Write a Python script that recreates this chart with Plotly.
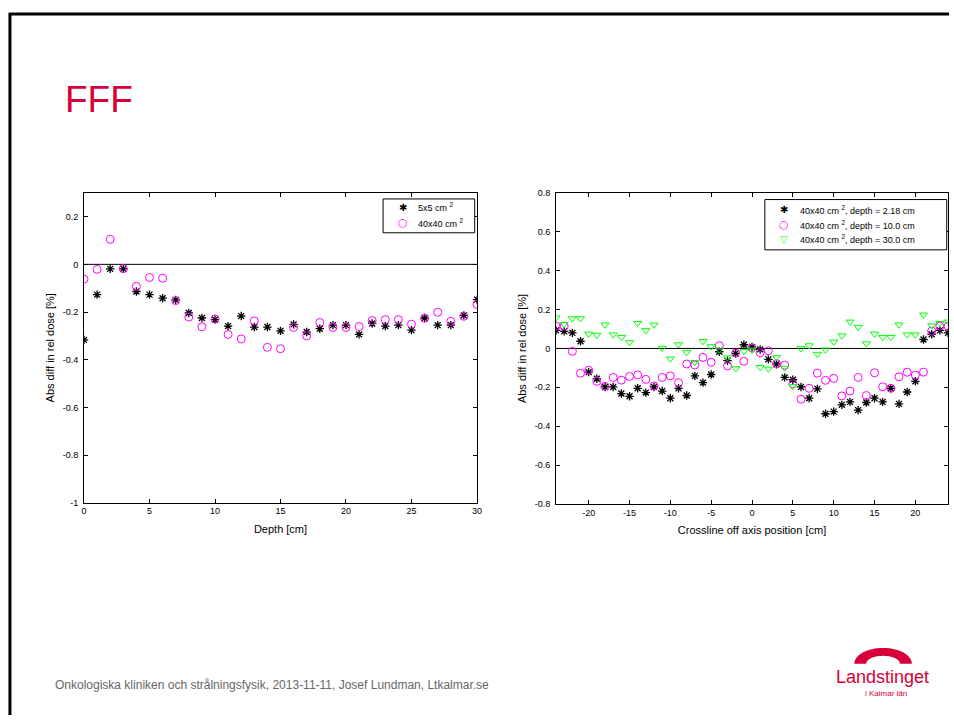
import numpy as np
import plotly.graph_objects as go

W, H = 954, 720

# ---------------- data ----------------
depth = list(range(0, 31))
pdd_5x5 = [-0.317, -0.127, -0.019, -0.019, -0.114, -0.127, -0.142, -0.149, -0.204, -0.225,
           -0.232, -0.259, -0.217, -0.263, -0.263, -0.279, -0.252, -0.284, -0.270, -0.255,
           -0.255, -0.294, -0.248, -0.259, -0.255, -0.276, -0.225, -0.255, -0.255, -0.214,
           -0.148]
pdd_40x40 = [-0.062, -0.021, 0.105, -0.018, -0.092, -0.055, -0.058, -0.152, -0.221, -0.262,
             -0.229, -0.294, -0.313, -0.237, -0.348, -0.354, -0.265, -0.300, -0.244, -0.265,
             -0.265, -0.261, -0.236, -0.232, -0.232, -0.251, -0.226, -0.201, -0.239, -0.218,
             -0.168]

position = list(range(-24, 25))
prof_d218 = [0.093, 0.088, 0.080, 0.037, -0.122, -0.156, -0.198, -0.198, -0.232, -0.246,
             -0.205, -0.227, -0.198, -0.219, -0.256, -0.205, -0.242, -0.141, -0.176, -0.134,
             -0.017, -0.063, -0.025, 0.019, 0.008, -0.005, -0.056, -0.081, -0.149, -0.161,
             -0.198, -0.256, -0.208, -0.336, -0.325, -0.290, -0.275, -0.317, -0.278, -0.256,
             -0.275, -0.205, -0.285, -0.224, -0.169, 0.046, 0.073, 0.093, 0.080]
prof_d10 = [0.115, 0.115, -0.015, -0.127, -0.112, -0.169, -0.195, -0.149, -0.163, -0.144,
            -0.136, -0.159, -0.193, -0.149, -0.141, -0.176, -0.080, -0.085, -0.046, -0.071,
            0.014, -0.090, -0.024, -0.066, 0.003, -0.022, -0.012, -0.078, -0.086, -0.181,
            -0.261, -0.205, -0.127, -0.164, -0.154, -0.244, -0.219, -0.149, -0.242, -0.125,
            -0.197, -0.205, -0.146, -0.122, -0.137, -0.122, 0.090, 0.115, 0.115]
prof_d30 = [0.158, 0.125, 0.154, 0.154, 0.075, 0.069, 0.122, 0.071, 0.058, 0.031,
            0.130, 0.093, 0.122, 0.002, -0.053, 0.020, -0.020, -0.071, 0.037, 0.010,
            -0.007, -0.047, -0.103, -0.015, -0.008, -0.097, -0.105, -0.046, -0.100, -0.195,
            0.000, 0.015, -0.029, -0.007, 0.034, 0.066, 0.137, 0.110, 0.025, 0.075,
            0.058, 0.058, 0.122, 0.071, 0.071, 0.173, 0.117, 0.130, 0.137]

left_names = ["5x5 cm <sup>2</sup>", "40x40 cm <sup>2</sup>"]
right_names = ["40x40 cm <sup>2</sup>, depth = 2.18 cm",
               "40x40 cm <sup>2</sup>, depth = 10.0 cm",
               "40x40 cm <sup>2</sup>, depth = 30.0 cm"]

left_xticks = [0, 5, 10, 15, 20, 25, 30]
left_yticks = [-1, -0.8, -0.6, -0.4, -0.2, 0, 0.2]
left_yticktext = ["-1", "-0.8", "-0.6", "-0.4", "-0.2", "0", "0.2"]
right_xticks = [-20, -15, -10, -5, 0, 5, 10, 15, 20]
right_xticktext = ["-20", "-15", "-10", "-5", "0", "5", "10", "15", "20"]
right_yticks = [-0.8, -0.6, -0.4, -0.2, 0, 0.2, 0.4, 0.6, 0.8]
right_yticktext = ["-0.8", "-0.6", "-0.4", "-0.2", "0", "0.2", "0.4", "0.6", "0.8"]

# ---------------- helpers ----------------
def px(x):
    return x / W

def py(y):
    return 1 - y / H

FONT = "Liberation Sans, Arial, sans-serif"
BLACK = "#000000"
MAGENTA = "#FF00FF"
GREEN = "#00FF00"
CRIMSON = "#D5003A"

STAR = dict(symbol="asterisk-open", size=7, color=BLACK, line=dict(color=BLACK, width=1.3))
RING = dict(symbol="circle-open", size=8, color=MAGENTA, line=dict(color=MAGENTA, width=1))
TRI = dict(symbol="triangle-down-open", size=7, color=GREEN, line=dict(color=GREEN, width=1))

fig = go.Figure()

# left plot
fig.add_trace(go.Scatter(x=depth, y=pdd_5x5, mode="markers", name=left_names[0],
                         marker=STAR, xaxis="x", yaxis="y"))
fig.add_trace(go.Scatter(x=depth, y=pdd_40x40, mode="markers", name=left_names[1],
                         marker=RING, xaxis="x", yaxis="y"))

# right plot
fig.add_trace(go.Scatter(x=position, y=prof_d218, mode="markers", name=right_names[0],
                         marker=STAR, xaxis="x2", yaxis="y2"))
fig.add_trace(go.Scatter(x=position, y=prof_d10, mode="markers", name=right_names[1],
                         marker=RING, xaxis="x2", yaxis="y2"))
fig.add_trace(go.Scatter(x=position, y=prof_d30, mode="markers", name=right_names[2],
                         marker=TRI, xaxis="x2", yaxis="y2"))

axis_common = dict(showline=True, linecolor=BLACK, linewidth=1, mirror="allticks",
                   ticks="inside", ticklen=4, tickcolor=BLACK, showgrid=False,
                   zeroline=False, tickfont=dict(family=FONT, size=9, color=BLACK),
                   title_font=dict(family=FONT, size=11, color=BLACK))

fig.update_layout(
    width=W, height=H, margin=dict(l=0, r=0, t=0, b=0),
    paper_bgcolor="white", plot_bgcolor="white",
    font=dict(family=FONT, color=BLACK),
    showlegend=False,
    xaxis=dict(domain=[px(81.7), px(478)], range=[0, 30], tickmode="array",
               tickvals=left_xticks, title=dict(text="Depth [cm]", standoff=9),
               anchor="y", **axis_common),
    yaxis=dict(domain=[py(504.7), py(190.5)], range=[-1, 0.3], tickmode="array",
               tickvals=left_yticks, ticktext=left_yticktext, ticklabelstandoff=3,
               title=dict(text="Abs diff in rel dose [%]", standoff=5),
               anchor="x", **axis_common),
    xaxis2=dict(domain=[px(557.7), px(953)], range=[-24, 24], tickmode="array",
                tickvals=right_xticks, ticktext=right_xticktext,
                title=dict(text="Crossline off axis position [cm]", standoff=9),
                anchor="y2", **axis_common),
    yaxis2=dict(domain=[py(506), py(190.6)], range=[-0.8, 0.8], tickmode="array",
                tickvals=right_yticks, ticktext=right_yticktext, ticklabelstandoff=3,
                title=dict(text="Abs diff in rel dose [%]", standoff=5),
                anchor="x2", **axis_common),
)

# zero lines
fig.add_shape(type="line", xref="x domain", yref="y", x0=0, x1=1, y0=0, y1=0,
              line=dict(color=BLACK, width=1), layer="below")
fig.add_shape(type="line", xref="x2 domain", yref="y2", x0=0, x1=1, y0=0, y1=0,
              line=dict(color=BLACK, width=1), layer="below")

# legends (MATLAB-style boxes)
GLYPHS = [("\u2731", BLACK, 10), ("\u25cb", MAGENTA, 11), ("\u25bd", GREEN, 10)]

def add_legend(box, sym_x, text_x, rows, names):
    x0, y0, x1, y1 = box
    fig.add_shape(type="rect", xref="paper", yref="paper", x0=px(x0), x1=px(x1),
                  y0=py(y1), y1=py(y0), line=dict(color=BLACK, width=1),
                  fillcolor="white", layer="above")
    for i, (yy, name) in enumerate(zip(rows, names)):
        g, c, s = GLYPHS[i]
        fig.add_annotation(text=g, xref="paper", yref="paper", x=px(sym_x), y=py(yy),
                           xanchor="center", yanchor="middle", showarrow=False,
                           font=dict(family="DejaVu Sans", size=s, color=c))
        fig.add_annotation(text=name, xref="paper", yref="paper", x=px(text_x - 2), y=py(yy),
                           xanchor="left", yanchor="middle", showarrow=False,
                           font=dict(family=FONT, size=9, color=BLACK))

add_legend((383.3, 196.7, 475.7, 231.0), 403.3, 418.3, [205.0, 220.7], left_names)
add_legend((768.3, 197.3, 951.7, 248.3), 787.3, 804.0, [207.7, 222.7, 237.3], right_names)

# slide frame (top and left edges)
fig.add_shape(type="line", xref="paper", yref="paper", x0=px(6), x1=1, y0=py(9), y1=py(9),
              line=dict(color=BLACK, width=3))
fig.add_shape(type="line", xref="paper", yref="paper", x0=px(7), x1=px(7), y0=py(8), y1=0,
              line=dict(color=BLACK, width=3))

# title
fig.add_annotation(text="FFF", xref="paper", yref="paper", x=px(61), y=py(96),
                   xanchor="left", yanchor="middle", showarrow=False,
                   font=dict(family=FONT, size=37, color=CRIMSON))

# footer
fig.add_annotation(text="Onkologiska kliniken och strålningsfysik, 2013-11-11, Josef Lundman, Ltkalmar.se",
                   xref="paper", yref="paper", x=px(50), y=py(690),
                   xanchor="left", yanchor="middle", showarrow=False,
                   font=dict(family=FONT, size=12, color="#666666"))

# logo
cx, cy = 887.5, 668.0
t = np.linspace(np.pi, 0, 40)
outer = [(cx + 29 * np.cos(a), cy - 16 * np.sin(a)) for a in t]
inner = [(cx + 17 * np.cos(a), cy - 8 * np.sin(a)) for a in t[::-1]]
pts = outer + inner
path = "M " + " L ".join(f"{px(x):.5f},{py(y):.5f}" for x, y in pts) + " Z"
fig.add_shape(type="path", xref="paper", yref="paper", path=path,
              fillcolor=CRIMSON, line=dict(color=CRIMSON, width=0))
fig.add_annotation(text="Landstinget", xref="paper", yref="paper", x=px(887), y=py(681),
                   xanchor="center", yanchor="middle", showarrow=False,
                   font=dict(family=FONT, size=18, color=CRIMSON))
fig.add_annotation(text="i Kalmar län", xref="paper", yref="paper", x=px(890), y=py(698),
                   xanchor="center", yanchor="middle", showarrow=False,
                   font=dict(family=FONT, size=8, color=CRIMSON))

fig.write_html("out.html", config={"displayModeBar": False},
               post_script=("document.documentElement.style.overflow='hidden';"
                            "document.body.style.margin='0';"
                            "document.body.style.overflow='hidden';"))
